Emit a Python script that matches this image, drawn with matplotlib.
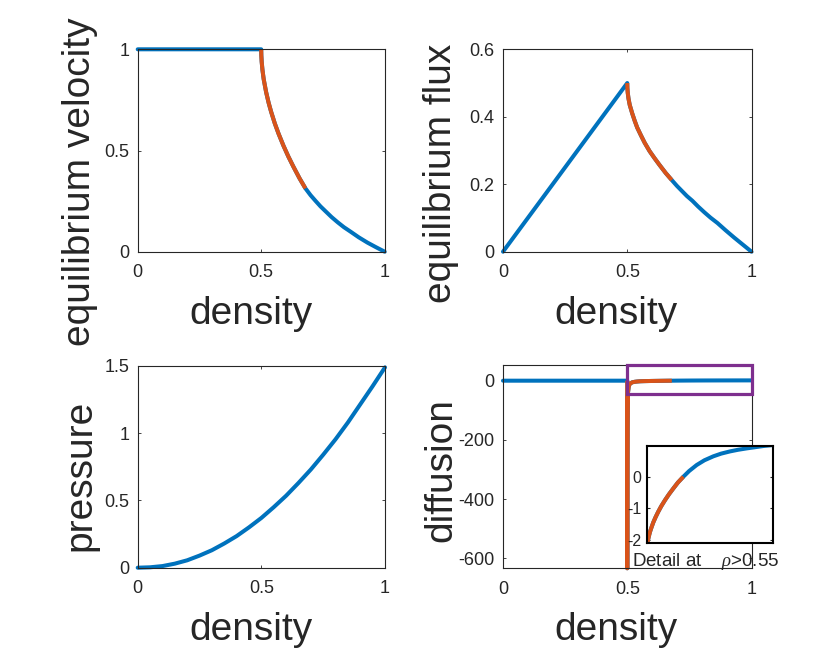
import numpy as np
import matplotlib
matplotlib.use("Agg")
import matplotlib.pyplot as plt
from matplotlib.patches import Rectangle
from matplotlib.ticker import FormatStrFormatter

# values
vel_rho = [0, 0.5, 0.5005, 0.502, 0.505, 0.51, 0.52, 0.53, 0.54, 0.555, 0.57, 0.59,
           0.61, 0.63, 0.655, 0.679, 0.70, 0.72, 0.74, 0.762, 0.785, 0.81, 0.835,
           0.863, 0.895, 0.93, 0.965, 1.0]
vel = [1, 1, 0.97, 0.938, 0.899, 0.853, 0.788, 0.736, 0.692, 0.634, 0.584, 0.524,
       0.47, 0.421, 0.363, 0.313, 0.279, 0.251, 0.224, 0.198, 0.171, 0.145, 0.121,
       0.098, 0.071, 0.045, 0.022, 0.0]

flux_rho = [0, 0.5, 0.5005, 0.502, 0.505, 0.51, 0.52, 0.53, 0.54, 0.555, 0.57, 0.59,
            0.61, 0.63, 0.655, 0.679, 0.70, 0.72, 0.74, 0.762, 0.785, 0.81, 0.835,
            0.863, 0.895, 0.93, 0.965, 1.0]
flux = [0, 0.5, 0.4855, 0.471, 0.454, 0.435, 0.41, 0.388, 0.368, 0.345, 0.323, 0.298,
        0.277, 0.257, 0.233, 0.2125, 0.195, 0.18, 0.165, 0.151, 0.134, 0.117, 0.101,
        0.085, 0.064, 0.042, 0.021, 0.0]

pres_rho = [0, 0.05, 0.1, 0.15, 0.2, 0.25, 0.3, 0.35, 0.4, 0.45, 0.5, 0.55, 0.6, 0.65,
            0.7, 0.75, 0.8, 0.85, 0.9, 0.95, 1.0]
pres = [0, 0.003, 0.012, 0.03, 0.055, 0.09, 0.13, 0.18, 0.235, 0.30, 0.37, 0.45, 0.535,
        0.63, 0.73, 0.84, 0.955, 1.08, 1.215, 1.35, 1.49]

diff_rho = [0, 0.5, 0.5, 0.5003, 0.5008, 0.5015, 0.503, 0.506, 0.51, 0.52, 0.53, 0.54,
            0.55, 0.555, 0.5596, 0.565, 0.5715, 0.58, 0.5895, 0.60, 0.6134, 0.628,
            0.6433, 0.66, 0.6793, 0.70, 0.7271, 0.755, 0.787, 0.815, 0.8468, 0.875,
            0.9066, 0.935, 0.9665, 1.0]
diff = [0, 0, -634, -300, -150, -80, -40, -20, -11, -5.5, -3.8, -2.8,
        -2.1, -1.9, -1.74, -1.6, -1.44, -1.27, -1.1, -0.93, -0.74, -0.55,
        -0.37, -0.18, 0.0, 0.18, 0.37, 0.52, 0.645, 0.73, 0.80, 0.85,
        0.895, 0.93, 0.97, 1.0]

unstable = (0.5, 0.68)
box_x = (0.5, 1.0)
box_y = (-45, 53)

BLUE = "#0072BD"
ORANGE = "#D95319"
PURPLE = "#7E2F8E"
INK = "#262626"
W, H = 830, 664

plt.rcParams["font.family"] = ["Liberation Sans", "DejaVu Sans"]
plt.rcParams["axes.unicode_minus"] = False
plt.rcParams["mathtext.fontset"] = "custom"
plt.rcParams["mathtext.it"] = "Liberation Serif:italic"

fig = plt.figure(figsize=(W / 100, H / 100), dpi=100)


def px_axes(l, t, r, b):
    return fig.add_axes([l / W, 1 - b / H, (r - l) / W, (b - t) / H])


def style(ax):
    for s in ax.spines.values():
        s.set_color(INK)
        s.set_linewidth(0.8)
    ax.tick_params(direction="in", length=2.5, width=0.6, colors=INK, labelsize=13,
                   top=True, right=True)
    ax.tick_params(axis="x", pad=9)
    ax.tick_params(axis="y", pad=6)
    ax.xaxis.set_major_formatter(FormatStrFormatter("%g"))
    ax.yaxis.set_major_formatter(FormatStrFormatter("%g"))


def labels(ax, ylab, ycx, ycy, xcx, xby):
    ax.set_ylabel(ylab, fontsize=28, color=INK, va="center")
    ax.yaxis.set_label_coords(ycx / W, 1 - ycy / H, transform=fig.transFigure)
    ax.set_xlabel("density", fontsize=28, color=INK, va="baseline")
    ax.xaxis.set_label_coords(xcx / W, 1 - xby / H, transform=fig.transFigure)


def draw(ax, rho, vals, lw=2.9, clip=False):
    rho = np.asarray(rho)
    vals = np.asarray(vals)
    ax.plot(rho, vals, color=BLUE, lw=lw, solid_capstyle="round", clip_on=clip)
    m = (rho >= unstable[0]) & (rho <= unstable[1])
    ax.plot(rho[m], vals[m], color=ORANGE, lw=lw, solid_capstyle="butt", clip_on=clip)


# equilibrium velocity
ax1 = px_axes(137.7, 49.3, 384.7, 251.7)
draw(ax1, vel_rho, vel)
ax1.set_xlim(0, 1)
ax1.set_ylim(0, 1)
ax1.set_xticks([0, 0.5, 1])
ax1.set_yticks([0, 0.5, 1])
style(ax1)
labels(ax1, "equilibrium velocity", 80, 182, 251, 324)

# equilibrium flux
ax2 = px_axes(503, 49.3, 751.5, 251.7)
draw(ax2, flux_rho, flux)
ax2.set_xlim(0, 1)
ax2.set_ylim(0, 0.6)
ax2.set_xticks([0, 0.5, 1])
ax2.set_yticks([0, 0.2, 0.4, 0.6])
style(ax2)
labels(ax2, "equilibrium flux", 441, 173, 616, 324)

# pressure
ax3 = px_axes(137.7, 366, 385, 567.7)
ax3.plot(pres_rho, pres, color=BLUE, lw=2.9, solid_capstyle="round", clip_on=False)
ax3.set_xlim(0, 1)
ax3.set_ylim(0, 1.5)
ax3.set_xticks([0, 0.5, 1])
ax3.set_yticks([0, 0.5, 1, 1.5])
style(ax3)
labels(ax3, "pressure", 80, 475, 251, 640)

# diffusion
ax4 = px_axes(503, 365, 751.5, 568.3)
draw(ax4, diff_rho, diff)
ax4.set_xlim(0, 1)
ax4.set_ylim(-634, 53)
ax4.set_xticks([0, 0.5, 1])
ax4.set_yticks([-600, -400, -200, 0])
style(ax4)
labels(ax4, "diffusion", 441, 470, 616, 640)
ax4.add_patch(Rectangle((box_x[0], box_y[0]), box_x[1] - box_x[0], box_y[1] - box_y[0],
                        fill=False, edgecolor=PURPLE, lw=2.3, clip_on=False, zorder=5))

# detail inset
axi = px_axes(647.3, 445.7, 772.7, 543.3)
draw(axi, diff_rho, diff, clip=True)
axi.set_xlim(0.55, 1)
axi.set_ylim(-2.1, 0.98)
axi.set_xticks([])
axi.set_yticks([-2, -1, 0])
for s in axi.spines.values():
    s.set_color("black")
    s.set_linewidth(1.5)
axi.tick_params(axis="y", direction="in", length=2.5, width=0.8, colors=INK,
                labelsize=11.5, right=True, pad=4)
axi.yaxis.set_major_formatter(FormatStrFormatter("%g"))
axi.set_xlabel(r"Detail at    $\rho$>0.55", fontsize=13.5, color=INK, va="baseline")
axi.xaxis.set_label_coords(705.5 / W, 1 - 566 / H, transform=fig.transFigure)

fig.savefig("out.png", dpi=100)
